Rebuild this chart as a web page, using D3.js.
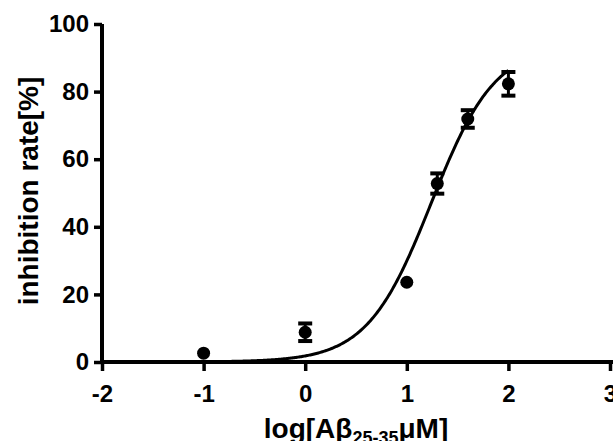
<!DOCTYPE html>
<html>
<head>
<meta charset="utf-8">
<style>
  body { margin: 0; background: #fff; }
  text { font-family: "Liberation Sans", Arial, Helvetica, sans-serif; font-weight: bold; }
</style>
</head>
<body>
<svg id="chart" width="613" height="441"></svg>
<script src="https://d3js.org/d3.v7.min.js"></script>
<script>
// measured points (log concentration, inhibition %, SEM)
let xs   = [-1, 0, 1, 1.3, 1.6, 2];
let ys   = [2.6, 8.8, 23.6, 52.8, 71.9, 82.3];
let errs = [0, 2.6, 0, 3.0, 2.6, 3.5];

let xTicks = [-2, -1, 0, 1, 2, 3];
let yTicks = [0, 20, 40, 60, 80, 100];

// sigmoid fit: bottom, top, logEC50, hill slope
let fitBottom = 0, fitTop = 94, fitEC50 = 1.24, fitHill = 1.38;

let svg = d3.select('#chart');
let x = d3.scaleLinear().domain([-2, 3]).range([102, 610]);
let y = d3.scaleLinear().domain([0, 100]).range([362, 24]);

function translate(a, b) { return 'translate(' + a + ',' + b + ')'; }

// axes
let yAxis = svg.append('g').attr('transform', translate(x(-2), 0))
  .call(d3.axisLeft(y).tickValues(yTicks).tickSize(8).tickPadding(5));
let xAxis = svg.append('g').attr('transform', translate(0, y(0)))
  .call(d3.axisBottom(x).tickValues(xTicks).tickSize(9).tickPadding(14).tickFormat(d => String(d)));

[yAxis, xAxis].forEach(g => {
  g.select('.domain').attr('stroke', '#000').attr('stroke-width', 4);
  g.selectAll('.tick line').attr('stroke', '#000').attr('stroke-width', 3.5);
  g.selectAll('.tick text').attr('fill', '#000').style('font-size', '24px');
});
yAxis.select('.domain').attr('d', 'M0,' + y(100) + 'V' + (y(0) + 2));
xAxis.select('.domain').attr('d', 'M' + (x(-2) - 2) + ',0H613');

// fitted curve
let curve = d3.range(0, 301).map(i => {
  let lx = -1 + i * 3 / 300;
  return [lx, fitBottom + (fitTop - fitBottom) / (1 + Math.pow(10, (fitEC50 - lx) * fitHill))];
});
svg.append('path')
  .datum(curve)
  .attr('fill', 'none')
  .attr('stroke', '#000')
  .attr('stroke-width', 3)
  .attr('d', d3.line().x(d => x(d[0])).y(d => y(d[1])));

// error bars
let bars = svg.append('g');
xs.forEach((v, i) => {
  if (!errs[i]) return;
  let cx = x(v);
  bars.append('line').attr('x1', cx).attr('x2', cx)
    .attr('y1', y(ys[i] + errs[i])).attr('y2', y(ys[i] - errs[i]))
    .attr('stroke', '#000').attr('stroke-width', 3);
  [ys[i] + errs[i], ys[i] - errs[i]].forEach(e => {
    bars.append('line').attr('x1', cx - 7).attr('x2', cx + 7)
      .attr('y1', y(e)).attr('y2', y(e))
      .attr('stroke', '#000').attr('stroke-width', 4);
  });
});

// points
svg.append('g').selectAll('circle')
  .data(xs)
  .enter()
    .append('circle')
    .attr('cx', d => x(d))
    .attr('cy', (d, i) => y(ys[i]))
    .attr('r', 6.5)
    .attr('fill', '#000');

// labels
svg.append('text')
  .attr('transform', translate(38, 191) + ' rotate(-90)')
  .attr('text-anchor', 'middle')
  .style('font-size', '28px')
  .text('inhibition rate[%]');

let xl = svg.append('text')
  .attr('x', 356)
  .attr('y', 438)
  .attr('text-anchor', 'middle')
  .style('font-size', '28px');
xl.append('tspan').text('log[Aβ');
xl.append('tspan').attr('dy', 6).style('font-size', '18px').text('25-35');
xl.append('tspan').attr('dy', -6).text('μM]');
</script>
</body>
</html>
